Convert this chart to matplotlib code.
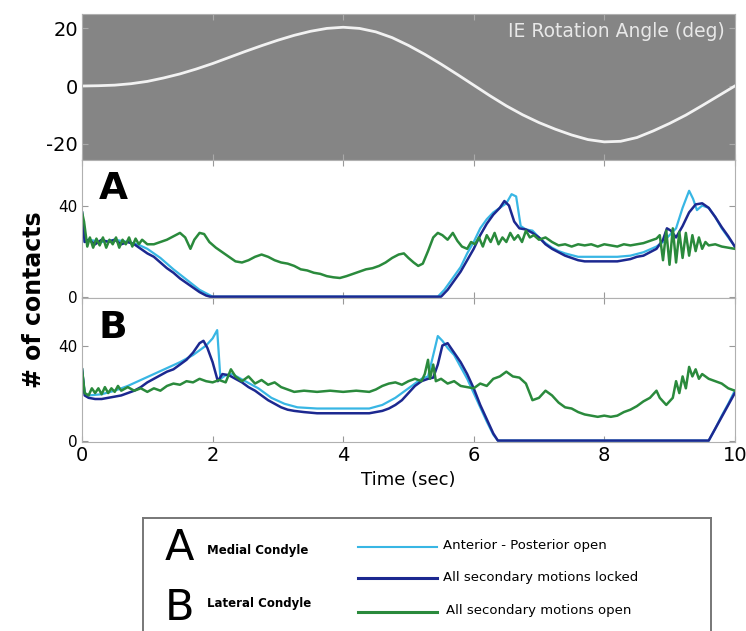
import matplotlib
matplotlib.use("Agg")
import matplotlib.pyplot as plt
from matplotlib.lines import Line2D

plt.rcParams["axes.unicode_minus"] = False

# IE rotation angle (deg) vs time (sec)
ie_t = [0.0, 0.25, 0.5, 0.75, 1.0, 1.25, 1.5, 1.75, 2.0, 2.25, 2.5, 2.75, 3.0, 3.25, 3.5, 3.75,
        4.0, 4.25, 4.5, 4.75, 5.0, 5.25, 5.5, 5.75, 6.0, 6.25, 6.5, 6.75, 7.0, 7.25, 7.5, 7.75,
        8.0, 8.25, 8.5, 8.75, 9.0, 9.25, 9.5, 9.75, 10.0]
ie_v = [0.0, 0.1, 0.3, 0.8, 1.6, 2.8, 4.2, 5.9, 7.8, 9.9, 12.0, 14.0, 15.9, 17.6, 19.0, 20.0,
        20.4, 20.0, 18.8, 16.8, 14.1, 11.0, 7.6, 4.0, 0.3, -3.4, -6.9, -10.0, -12.7, -15.0,
        -17.0, -18.6, -19.4, -19.2, -17.9, -15.6, -13.0, -10.1, -6.8, -3.4, 0.0]

# Panel A - medial condyle, number of contacts
a_green_t = [0.0, 0.03, 0.08, 0.12, 0.17, 0.22, 0.27, 0.32, 0.37, 0.42, 0.47, 0.52, 0.57, 0.62, 0.67,
             0.72, 0.77, 0.82, 0.87, 0.92, 1.0, 1.1, 1.2, 1.3, 1.4, 1.5, 1.58, 1.66, 1.72, 1.8, 1.87,
             1.95, 2.05, 2.15, 2.25, 2.35, 2.45, 2.55, 2.65, 2.75, 2.85, 2.95, 3.05, 3.15, 3.25, 3.35,
             3.45, 3.55, 3.65, 3.75, 3.85, 3.95, 4.05, 4.15, 4.25, 4.35, 4.45, 4.55, 4.65, 4.75, 4.85,
             4.93, 5.0, 5.08, 5.15, 5.22, 5.3, 5.38, 5.45, 5.52, 5.6, 5.68, 5.75, 5.82, 5.9, 5.96,
             6.02, 6.08, 6.14, 6.2, 6.26, 6.32, 6.38, 6.44, 6.5, 6.56, 6.62, 6.68, 6.74, 6.8, 6.86,
             6.92, 7.0, 7.1, 7.2, 7.3, 7.4, 7.5, 7.6, 7.7, 7.8, 7.9, 8.0, 8.1, 8.2, 8.3, 8.4, 8.5,
             8.6, 8.7, 8.8, 8.85, 8.9, 8.95, 9.0, 9.05, 9.1, 9.15, 9.2, 9.25, 9.3, 9.35, 9.4, 9.45,
             9.5, 9.55, 9.6, 9.7, 9.8, 9.9, 10.0]
a_green_v = [37, 33, 22, 26, 21.5, 25.5, 22.5, 26, 21.5, 25, 23, 26, 21.5, 25, 23, 26, 22, 25.5, 23,
             25, 23, 23, 24, 25, 26.5, 28, 26, 21, 25, 28, 27.5, 24, 21.5, 19.5, 17.5, 15.5, 15,
             16, 17.5, 18.5, 17.5, 16, 15, 14.5, 13.5, 12, 11.5, 10.5, 10, 9, 8.5, 8.2, 9, 10, 11,
             12, 12.5, 13.5, 15, 17, 18.5, 19, 17, 15, 13.5, 14.5, 20, 26, 28, 27, 25, 28, 24.5,
             22, 21, 24, 23, 26, 22, 27, 24, 28, 23, 26, 24, 28, 25, 27, 24, 29, 26, 27, 25, 26,
             24, 22.5, 23, 22, 23, 22.5, 23, 22, 23, 22.5, 22, 23, 22.5, 23, 23.5, 24.5, 25.5, 27,
             16, 29, 14, 30, 15, 28.5, 17, 28, 18, 27, 20, 26, 21, 24, 22.5, 23, 22, 21.5, 21]

a_navy_t = [0.0, 0.04, 0.1, 0.2, 0.3, 0.4, 0.5, 0.6, 0.7, 0.8, 0.9, 1.0, 1.1, 1.2, 1.3, 1.4, 1.5,
            1.6, 1.7, 1.8, 1.9, 1.96, 5.5, 5.6, 5.7, 5.8, 5.9, 6.0, 6.1, 6.2, 6.3, 6.4, 6.47, 6.54,
            6.62, 6.7, 6.8, 6.9, 7.0, 7.1, 7.2, 7.3, 7.4, 7.5, 7.6, 7.7, 8.2, 8.3, 8.4, 8.5, 8.6,
            8.7, 8.8, 8.9, 8.96, 9.02, 9.1, 9.2, 9.3, 9.4, 9.5, 9.6, 9.7, 9.8, 9.9, 10.0]
a_navy_v = [37, 24, 25, 23, 25, 24, 25, 23, 24, 23, 21, 19, 17.5, 15, 12.5, 10.5, 8, 6, 4, 2, 0.5,
            0, 0, 3, 7, 11, 16, 21, 27, 32, 36, 39, 42, 40, 33, 30, 29.5, 28, 26, 23, 21, 19.5,
            18, 17, 16, 15.5, 15.5, 16, 16.5, 17.5, 18, 19.5, 21, 25, 30, 29, 26, 31, 37, 40.5,
            41, 39, 35, 30.5, 26.5, 22]

a_cyan_t = [0.0, 0.04, 0.1, 0.3, 0.5, 0.7, 0.85, 1.0, 1.2, 1.4, 1.6, 1.8, 2.0, 5.45, 5.55, 5.7,
            5.8, 5.9, 6.0, 6.1, 6.2, 6.3, 6.4, 6.5, 6.58, 6.65, 6.72, 6.8, 6.9, 7.0, 7.1, 7.2, 7.3,
            7.4, 7.6, 8.2, 8.4, 8.6, 8.8, 8.9, 9.0, 9.1, 9.2, 9.3, 9.36, 9.42, 9.5, 9.6, 9.7, 9.8,
            9.9, 10.0]
a_cyan_v = [37, 24, 25, 24, 25, 24, 23, 21, 17, 12, 7.5, 3, 0, 0, 3, 9, 13, 19, 24, 30, 34, 37,
            39, 41, 45, 44, 31, 29.5, 29, 26, 23.5, 21.5, 20, 19, 17.5, 17.5, 18, 19.5, 22, 24,
            27, 30, 39, 46.5, 43, 38, 40, 39, 35, 30, 26, 22]

# Panel B - lateral condyle, number of contacts
b_green_t = [0.0, 0.04, 0.1, 0.15, 0.2, 0.25, 0.3, 0.35, 0.4, 0.45, 0.5, 0.55, 0.6, 0.7, 0.8, 0.9,
             1.0, 1.1, 1.2, 1.3, 1.4, 1.5, 1.6, 1.7, 1.8, 1.9, 2.0, 2.1, 2.2, 2.28, 2.35, 2.45,
             2.55, 2.65, 2.75, 2.85, 2.95, 3.05, 3.15, 3.25, 3.4, 3.6, 3.8, 4.0, 4.2, 4.4, 4.5,
             4.6, 4.7, 4.8, 4.9, 5.0, 5.1, 5.2, 5.25, 5.3, 5.33, 5.38, 5.42, 5.5, 5.6, 5.7, 5.8,
             5.9, 6.0, 6.1, 6.2, 6.3, 6.4, 6.5, 6.6, 6.7, 6.8, 6.9, 7.0, 7.1, 7.2, 7.3, 7.4, 7.5,
             7.6, 7.7, 7.8, 7.9, 8.0, 8.1, 8.2, 8.3, 8.4, 8.5, 8.6, 8.7, 8.8, 8.85, 8.95, 9.05,
             9.1, 9.15, 9.2, 9.25, 9.3, 9.35, 9.4, 9.45, 9.5, 9.6, 9.7, 9.8, 9.9, 10.0]
b_green_v = [30, 20, 19, 22, 20, 22, 19.5, 22.5, 20, 22, 20.5, 23, 21, 22.5, 21, 22, 20.5, 22, 21,
             23, 24, 23.5, 25, 24.5, 26, 25, 24.5, 25.5, 24.5, 30, 27, 25, 27, 24, 25.5, 23.5,
             24.5, 22.5, 21.5, 20.5, 21, 20.5, 21, 20.5, 21, 20.5, 21.5, 23, 24, 24.5, 23.5, 25,
             26, 25, 28, 34, 26, 32, 25, 26, 24, 25, 23, 22.5, 22, 24, 23, 26, 27, 29, 27, 26.5,
             24, 17, 18, 21, 19, 16, 14, 13.5, 12, 11, 10.5, 10, 10.5, 10, 10.5, 12, 13, 14.5,
             16.5, 18, 21, 18, 15, 18, 25, 20, 27, 22, 31, 27, 30, 26, 28, 26, 25, 24, 22, 21]

b_navy_t = [0.0, 0.04, 0.1, 0.2, 0.3, 0.4, 0.5, 0.6, 0.7, 0.8, 0.9, 1.0, 1.1, 1.2, 1.3, 1.4, 1.5,
            1.6, 1.7, 1.8, 1.86, 1.92, 2.0, 2.08, 2.15, 2.25, 2.35, 2.45, 2.55, 2.65, 2.75, 2.85,
            2.95, 3.05, 3.15, 3.25, 3.4, 3.6, 4.4, 4.6, 4.7, 4.8, 4.9, 5.0, 5.1, 5.2, 5.3, 5.38,
            5.45, 5.52, 5.6, 5.7, 5.8, 5.9, 6.0, 6.1, 6.2, 6.3, 6.37, 9.6, 9.7, 9.8, 9.9, 10.0]
b_navy_v = [30, 19, 18, 17.5, 17.5, 18, 18.5, 19, 20, 21, 22.5, 24.5, 26, 27.5, 29, 30, 32, 34,
            37, 41, 42, 39, 33, 25, 28, 27.5, 26, 24.5, 22.5, 21, 19, 17, 15.5, 14, 13, 12.5, 12,
            11.5, 11.5, 12.5, 13.5, 15, 17, 20, 23, 25, 26, 26.5, 32, 40, 41, 37, 33, 28, 22, 15,
            9, 3, 0, 0, 5, 10, 15, 20]

b_cyan_t = [0.0, 0.04, 0.1, 0.3, 0.5, 0.7, 0.9, 1.1, 1.3, 1.5, 1.7, 1.9, 2.0, 2.07, 2.12, 2.2,
            2.3, 2.5, 2.7, 2.9, 3.1, 3.3, 3.6, 4.4, 4.6, 4.8, 5.0, 5.1, 5.2, 5.3, 5.38, 5.45, 5.52,
            5.6, 5.7, 5.8, 5.9, 6.0, 6.1, 6.2, 6.3, 6.37, 9.6, 9.7, 9.8, 9.9, 10.0]
b_cyan_v = [30, 20, 19, 19.5, 21, 23, 25.5, 28, 30.5, 33, 36, 40, 43, 46.5, 26, 27.5, 28, 25, 22,
            18, 15.5, 14, 13.5, 13.5, 15, 18, 22, 24, 26, 27, 36, 44, 42, 39, 36, 31, 26, 20, 14,
            8, 2.5, 0, 0, 5, 10.5, 15.5, 21]

CYAN, NAVY, GREEN = "#38b6e4", "#1c2890", "#2a8a3c"
SPINE = "#b0b0b0"

fig = plt.figure(figsize=(7.46, 6.31), dpi=100)
L, W = 0.110, 0.875
ax_ie = fig.add_axes([L, 0.7464, W, 0.2314])
ax_a = fig.add_axes([L, 0.5277, W, 0.2187])
ax_b = fig.add_axes([L, 0.2995, W, 0.2282])


def style(ax, labelsize):
    for s in ax.spines.values():
        s.set_color(SPINE)
    ax.tick_params(direction="in", top=True, right=True, color="#999999", length=4,
                   labelsize=labelsize, pad=3)
    ax.set_xlim(0, 10)
    ax.set_xticks([0, 2, 4, 6, 8, 10])


ax_ie.set_facecolor("#858585")
ax_ie.plot(ie_t, ie_v, color="#f2f2f2", lw=2.0)
ax_ie.set_ylim(-25.7, 25)
ax_ie.set_yticks([-20, 0, 20])
style(ax_ie, 14)
ax_ie.tick_params(labelbottom=False, color="#aaaaaa")
ax_ie.text(0.985, 0.88, "IE Rotation Angle (deg)", transform=ax_ie.transAxes, ha="right",
           va="center", color="#e8e8e8", fontsize=13.5)

for ax, tc, tv, nt, nv, gt, gv, lab in [
        (ax_a, a_cyan_t, a_cyan_v, a_navy_t, a_navy_v, a_green_t, a_green_v, "A"),
        (ax_b, b_cyan_t, b_cyan_v, b_navy_t, b_navy_v, b_green_t, b_green_v, "B")]:
    ax.plot(tc, tv, color=CYAN, lw=1.6)
    ax.plot(nt, nv, color=NAVY, lw=1.8)
    ax.plot(gt, gv, color=GREEN, lw=1.8)
    ax.set_ylim(-0.6, 60)
    ax.set_yticks([0, 40])
    style(ax, 11)
    ax.text(0.025, 0.79, lab, transform=ax.transAxes, fontsize=27, fontweight="bold",
            va="center")

ax_a.tick_params(labelbottom=False)
ax_b.tick_params(labelsize=14, axis="x")
ax_b.set_xlabel("Time (sec)", fontsize=13, labelpad=4)
fig.text(0.045, 0.525, "# of contacts", rotation=90, fontsize=17, fontweight="semibold",
         ha="center", va="center")

# legend box
leg = fig.add_axes([0.1917, -0.02, 0.761, 0.199])
leg.set_xticks([]); leg.set_yticks([])
for s in leg.spines.values():
    s.set_color("#777777"); s.set_linewidth(1.4)
fig.text(0.241, 0.131, "A", fontsize=31, ha="center", va="center")
fig.text(0.241, 0.036, "B", fontsize=31, ha="center", va="center")
fig.text(0.278, 0.127, "Medial Condyle", fontsize=8.5, fontweight="bold", va="center")
fig.text(0.278, 0.043, "Lateral Condyle", fontsize=8.5, fontweight="bold", va="center")
for y, c, lw in [(0.133, CYAN, 1.5), (0.084, NAVY, 2.2), (0.030, GREEN, 2.2)]:
    fig.add_artist(Line2D([0.48, 0.586], [y, y], color=c, lw=lw, transform=fig.transFigure))
fig.text(0.594, 0.136, "Anterior - Posterior open", fontsize=9.5, va="center")
fig.text(0.594, 0.084, "All secondary motions locked", fontsize=9.5, va="center")
fig.text(0.598, 0.033, "All secondary motions open", fontsize=9.5, va="center")

fig.savefig("out.png", dpi=100)
